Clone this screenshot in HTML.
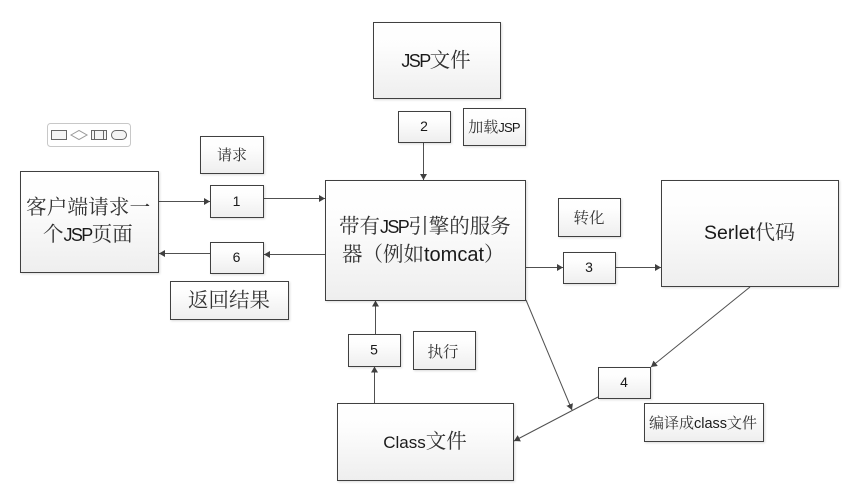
<!DOCTYPE html>
<html>
<head>
<meta charset="utf-8">
<style>
html,body{margin:0;padding:0;background:#fff;width:855px;height:493px;overflow:hidden}
svg{display:block}
text{font-family:"Liberation Sans","Noto Serif CJK SC",serif;fill:#333;text-anchor:middle}
text.s{text-anchor:start}
text.d{fill:#1a1a1a}
rect.b{fill:url(#g);stroke:#404040;stroke-width:1;filter:drop-shadow(1px 1px 1px rgba(0,0,0,.14))}
line{stroke:#505050;stroke-width:1}
tspan.j{font-size:18px;letter-spacing:-1.6px;fill:#1a1a1a}
tspan.l{fill:#1a1a1a}
</style>
</head>
<body>
<svg width="855" height="493" viewBox="0 0 855 493" xmlns="http://www.w3.org/2000/svg">
<defs>
<linearGradient id="g" x1="0" y1="0" x2="0" y2="1"><stop offset="0" stop-color="#ffffff"/><stop offset=".3" stop-color="#fdfdfd"/><stop offset="1" stop-color="#eeeeee"/></linearGradient>
<marker id="a" markerUnits="userSpaceOnUse" markerWidth="7" markerHeight="7" refX="6" refY="3.5" orient="auto"><path d="M0 0L6 3.5L0 7Z" fill="#404040"/></marker>
</defs>

<!-- palette -->
<rect x="47.5" y="123.5" width="83" height="23" rx="3" fill="#fff" stroke="#c8c8c8"/>
<rect x="51.5" y="130.5" width="15" height="9" fill="#f4f4f4" stroke="#666"/>
<path d="M71 135L79 130.5L87 135L79 139.5Z" fill="#fff" stroke="#999"/>
<rect x="91.5" y="130.5" width="15" height="9" fill="#f4f4f4" stroke="#666"/>
<path d="M94.5 130.5V139.5M103.5 130.5V139.5" stroke="#666" fill="none"/>
<rect x="111.5" y="130.5" width="15" height="9" rx="4.5" fill="#f4f4f4" stroke="#666"/>

<!-- connectors -->
<line x1="159" y1="201.5" x2="210" y2="201.5" marker-end="url(#a)"/>
<line x1="264" y1="198.5" x2="325" y2="198.5" marker-end="url(#a)"/>
<line x1="325" y1="254.5" x2="264" y2="254.5" marker-end="url(#a)"/>
<line x1="210" y1="253.5" x2="159" y2="253.5" marker-end="url(#a)"/>
<line x1="423.5" y1="142" x2="423.5" y2="180" marker-end="url(#a)"/>
<line x1="526" y1="267.5" x2="563" y2="267.5" marker-end="url(#a)"/>
<line x1="616" y1="267.5" x2="661" y2="267.5" marker-end="url(#a)"/>
<line x1="750" y1="287" x2="651" y2="367" marker-end="url(#a)"/>
<line x1="598" y1="397" x2="514" y2="441" marker-end="url(#a)"/>
<line x1="526" y1="300" x2="572" y2="410" marker-end="url(#a)"/>
<line x1="375.5" y1="334" x2="375.5" y2="300.5" marker-end="url(#a)"/>
<line x1="374.5" y1="403" x2="374.5" y2="366.5" marker-end="url(#a)"/>

<!-- boxes -->
<rect class="b" x="20.5" y="171.5" width="138" height="101"/>
<rect class="b" x="200.5" y="136.5" width="63" height="37"/>
<rect class="b" x="210.5" y="185.5" width="53" height="32"/>
<rect class="b" x="210.5" y="242.5" width="53" height="31"/>
<rect class="b" x="170.5" y="281.5" width="118" height="38"/>
<rect class="b" x="373.5" y="22.5" width="127" height="76"/>
<rect class="b" x="398.5" y="111.5" width="52" height="31"/>
<rect class="b" x="463.5" y="108.5" width="62" height="37"/>
<rect class="b" x="325.5" y="180.5" width="200" height="120"/>
<rect class="b" x="558.5" y="198.5" width="62" height="38"/>
<rect class="b" x="563.5" y="252.5" width="52" height="31"/>
<rect class="b" x="661.5" y="180.5" width="177" height="106"/>
<rect class="b" x="348.5" y="334.5" width="52" height="32"/>
<rect class="b" x="413.5" y="331.5" width="62" height="38"/>
<rect class="b" x="598.5" y="367.5" width="52" height="31"/>
<rect class="b" x="644.5" y="403.5" width="119" height="38"/>
<rect class="b" x="337.5" y="403.5" width="176" height="77"/>

<!-- labels -->
<text class="s" x="26" y="214" font-size="20.7">客户端请求一</text>
<text class="s" x="43" y="241" font-size="20.5">个<tspan class="j">JSP</tspan>页面</text>
<text x="232" y="160" font-size="15">请求</text>
<text class="d" x="236.5" y="206" font-size="14">1</text>
<text class="d" x="236.5" y="262" font-size="14">6</text>
<text x="229" y="307" font-size="20.5">返回结果</text>
<text x="436" y="67" font-size="20.5"><tspan class="j">JSP</tspan>文件</text>
<text class="d" x="424" y="131" font-size="14">2</text>
<text x="494" y="132" font-size="15">加载<tspan class="l" font-size="13" letter-spacing="-.8">JSP</tspan></text>
<text class="s" x="339" y="233" font-size="20.5">带有<tspan class="j">JSP</tspan>引擎的服务</text>
<text class="s" x="342" y="261" font-size="20.5">器（例如<tspan class="l" font-size="20">tomcat</tspan>）</text>
<text x="589" y="223" font-size="15.5">转化</text>
<text class="d" x="589" y="272" font-size="14">3</text>
<text x="749.5" y="239" font-size="20"><tspan class="l" font-size="19.5">Serlet</tspan>代码</text>
<text class="d" x="374" y="354.5" font-size="14">5</text>
<text x="443" y="357" font-size="15.5">执行</text>
<text class="d" x="624" y="387" font-size="14">4</text>
<text x="703" y="428" font-size="15">编译成<tspan class="l" font-size="14.5">class</tspan>文件</text>
<text x="425" y="448" font-size="20.5"><tspan class="l" font-size="17">Class</tspan>文件</text>
</svg>
</body>
</html>
